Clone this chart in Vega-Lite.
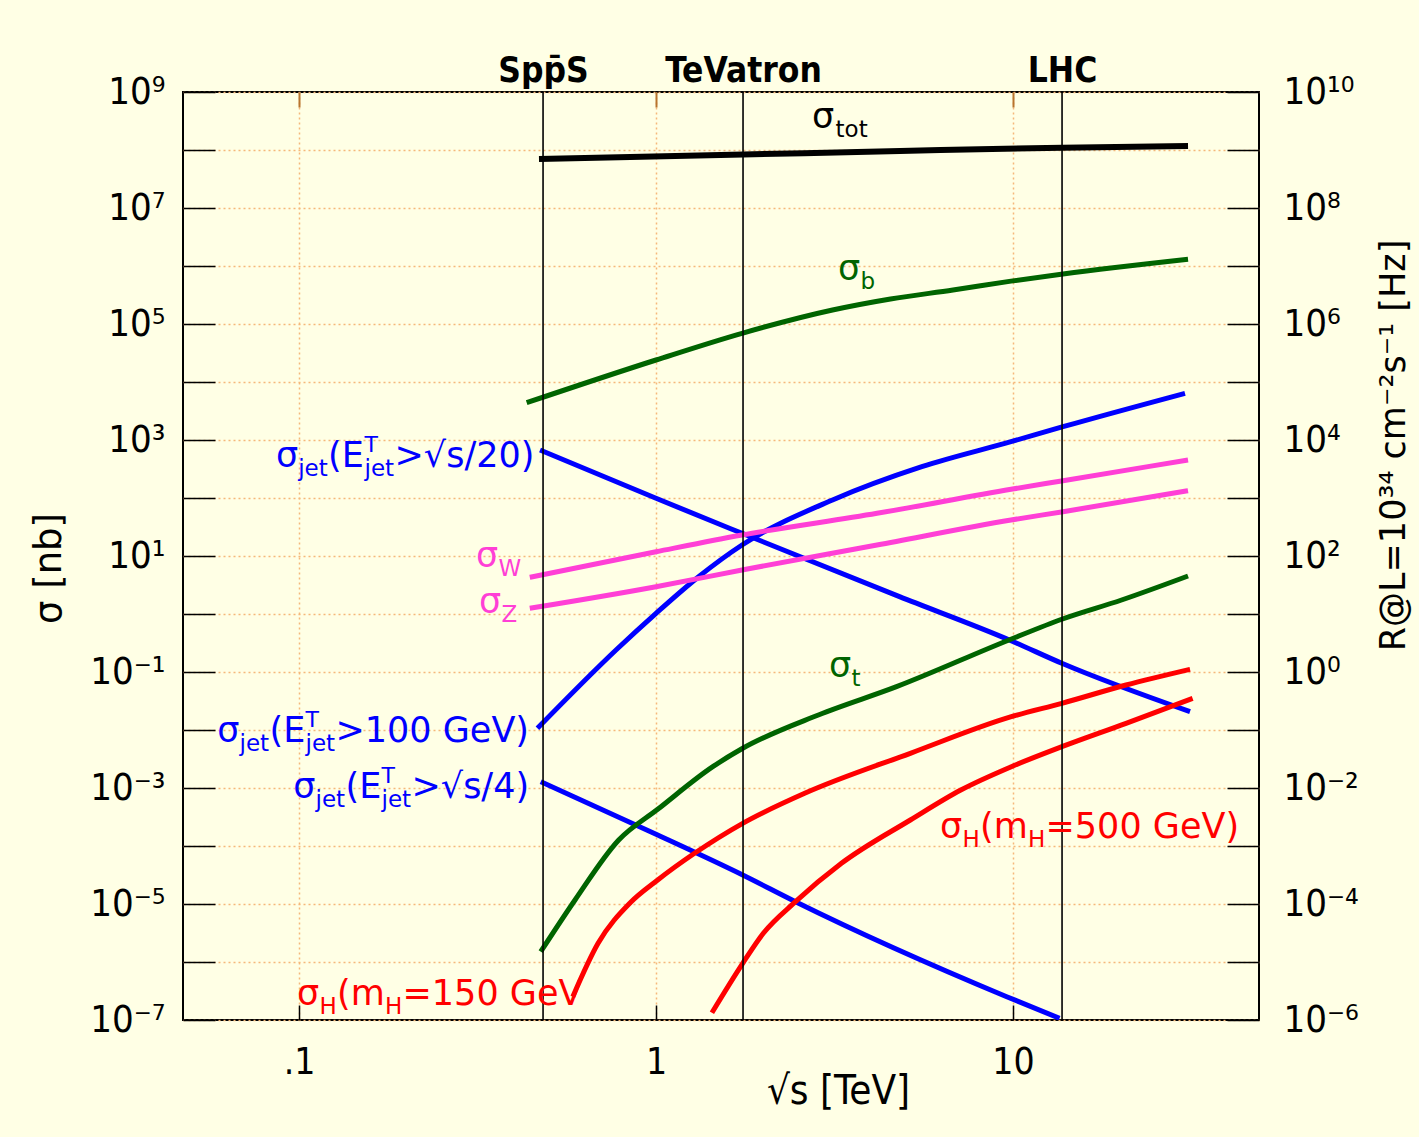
{
  "$schema": "https://vega.github.io/schema/vega-lite/v6.json",
  "width": 1076,
  "height": 928,
  "autosize": {"type": "none"},
  "padding": {"left": 183, "top": 92, "right": 160, "bottom": 117},
  "background": "#FFFFE5",
  "config": {
    "view": {"stroke": "#000000", "strokeWidth": 2},
    "axis": {"labelOverlap": false, "labelFlush": false, "labelBound": false}
  },
  "datasets": {
    "curves": [
      {"series": "tot", "s": 0.4701, "sigma": 70000000},
      {"series": "tot", "s": 1.7529, "sigma": 83600000},
      {"series": "tot", "s": 4.826, "sigma": 96100000},
      {"series": "tot", "s": 13.72, "sigma": 109600000},
      {"series": "tot", "s": 30.92, "sigma": 117200000},
      {"series": "b", "s": 0.4342, "sigma": 4396},
      {"series": "b", "s": 1, "sigma": 23950},
      {"series": "b", "s": 1.7415, "sigma": 69140},
      {"series": "b", "s": 3.1218, "sigma": 174300},
      {"series": "b", "s": 4.5378, "sigma": 270000},
      {"series": "b", "s": 6.7903, "sigma": 385800},
      {"series": "b", "s": 9.872, "sigma": 548000},
      {"series": "b", "s": 13.806, "sigma": 728000},
      {"series": "b", "s": 30.92, "sigma": 1305000},
      {"series": "jet20", "s": 0.4733, "sigma": 672.4},
      {"series": "jet20", "s": 1, "sigma": 98.8},
      {"series": "jet20", "s": 1.7415, "sigma": 24.63},
      {"series": "jet20", "s": 4.809, "sigma": 1.988},
      {"series": "jet20", "s": 9.872, "sigma": 0.3465},
      {"series": "jet20", "s": 13.7, "sigma": 0.1413},
      {"series": "jet20", "s": 31.32, "sigma": 0.02068},
      {"series": "jet100", "s": 0.4654, "sigma": 0.0107},
      {"series": "jet100", "s": 0.7726, "sigma": 0.2395},
      {"series": "jet100", "s": 1, "sigma": 1.028},
      {"series": "jet100", "s": 1.3164, "sigma": 4.396},
      {"series": "jet100", "s": 1.7415, "sigma": 15.47},
      {"series": "jet100", "s": 3.1218, "sigma": 92.4},
      {"series": "jet100", "s": 5.554, "sigma": 346.5},
      {"series": "jet100", "s": 9.872, "sigma": 934.7},
      {"series": "jet100", "s": 13.806, "sigma": 1696},
      {"series": "jet100", "s": 30.32, "sigma": 6387},
      {"series": "jet4", "s": 0.4754, "sigma": 0.0012843},
      {"series": "jet4", "s": 1.011, "sigma": 0.00015476},
      {"series": "jet4", "s": 1.7494, "sigma": 0.00003162},
      {"series": "jet4", "s": 2.459, "sigma": 0.000010956},
      {"series": "jet4", "s": 9.602, "sigma": 0.0000002522},
      {"series": "jet4", "s": 13.5, "sigma": 0.000000107},
      {"series": "W", "s": 0.443, "sigma": 4.293},
      {"series": "W", "s": 1, "sigma": 11.86},
      {"series": "W", "s": 1.7415, "sigma": 23.02},
      {"series": "W", "s": 4.159, "sigma": 54.48},
      {"series": "W", "s": 9.872, "sigma": 141.3},
      {"series": "W", "s": 13.806, "sigma": 198.8},
      {"series": "W", "s": 30.92, "sigma": 452.1},
      {"series": "Z", "s": 0.443, "sigma": 1.254},
      {"series": "Z", "s": 1, "sigma": 2.956},
      {"series": "Z", "s": 1.7415, "sigma": 5.737},
      {"series": "Z", "s": 4.159, "sigma": 15.47},
      {"series": "Z", "s": 9.872, "sigma": 41.75},
      {"series": "Z", "s": 13.806, "sigma": 58.04},
      {"series": "Z", "s": 30.92, "sigma": 133.6},
      {"series": "t", "s": 0.4754, "sigma": 0.000001505},
      {"series": "t", "s": 0.5931, "sigma": 0.00001172},
      {"series": "t", "s": 0.7862, "sigma": 0.00012686},
      {"series": "t", "s": 1.011, "sigma": 0.0004293},
      {"series": "t", "s": 1.4425, "sigma": 0.0023293},
      {"series": "t", "s": 1.7494, "sigma": 0.004836},
      {"series": "t", "s": 2.85, "sigma": 0.01814},
      {"series": "t", "s": 4.7175, "sigma": 0.0558},
      {"series": "t", "s": 9.745, "sigma": 0.3562},
      {"series": "t", "s": 13.762, "sigma": 0.8202},
      {"series": "t", "s": 20.138, "sigma": 1.743},
      {"series": "t", "s": 30.92, "sigma": 4.521},
      {"series": "H150", "s": 0.5847, "sigma": 0.0000002522},
      {"series": "H150", "s": 0.6882, "sigma": 0.000002101},
      {"series": "H150", "s": 0.8468, "sigma": 0.0000105},
      {"series": "H150", "s": 1.011, "sigma": 0.00002593},
      {"series": "H150", "s": 1.2819, "sigma": 0.00007483},
      {"series": "H150", "s": 1.7494, "sigma": 0.0002462},
      {"series": "H150", "s": 2.609, "sigma": 0.0008103},
      {"series": "H150", "s": 5.157, "sigma": 0.003965},
      {"series": "H150", "s": 9.891, "sigma": 0.01696},
      {"series": "H150", "s": 13.7, "sigma": 0.02887},
      {"series": "H150", "s": 20.73, "sigma": 0.05969},
      {"series": "H150", "s": 31.32, "sigma": 0.1113},
      {"series": "H500", "s": 1.4342, "sigma": 0.0000001336},
      {"series": "H500", "s": 1.7494, "sigma": 0.0000009497},
      {"series": "H500", "s": 1.9979, "sigma": 0.000003125},
      {"series": "H500", "s": 2.459, "sigma": 0.000010956},
      {"series": "H500", "s": 3.3071, "sigma": 0.0000503},
      {"series": "H500", "s": 5.157, "sigma": 0.0002808},
      {"series": "H500", "s": 7.1414, "sigma": 0.0009237},
      {"series": "H500", "s": 9.891, "sigma": 0.0023293},
      {"series": "H500", "s": 13.7, "sigma": 0.005153},
      {"series": "H500", "s": 20.73, "sigma": 0.01305},
      {"series": "H500", "s": 31.85, "sigma": 0.03521}
    ],
    "colliders": [
      {"name": "SppS", "s": 0.4826},
      {"name": "TeVatron", "s": 1.7529},
      {"name": "LHC", "s": 13.72}
    ],
    "labels": [
      {"series": "tot", "part": "main", "text": "σ", "s": 2.7353, "sigma": 239500000},
      {"series": "tot", "part": "sub", "text": "tot", "s": 3.1835, "sigma": 239500000},
      {"series": "b", "part": "main", "text": "σ", "s": 3.2353, "sigma": 573700},
      {"series": "b", "part": "sub", "text": "b", "s": 3.7395, "sigma": 573700},
      {"series": "t", "part": "main", "text": "σ", "s": 3.0524, "sigma": 0.08201},
      {"series": "t", "part": "sub", "text": "t", "s": 3.5288, "sigma": 0.08201},
      {"series": "W", "part": "main", "text": "σ", "s": 0.31318, "sigma": 6.462},
      {"series": "W", "part": "sub", "text": "W", "s": 0.36213, "sigma": 6.462},
      {"series": "Z", "part": "main", "text": "σ", "s": 0.31929, "sigma": 1.0404},
      {"series": "Z", "part": "sub", "text": "Z", "s": 0.36922, "sigma": 1.0404},
      {"series": "jet20", "part": "main", "text": "σ", "s": 0.0862, "sigma": 342.3},
      {"series": "jet20", "part": "sub", "text": "jet", "s": 0.09948, "sigma": 342.3},
      {"series": "jet20", "part": "main", "text": "(E", "s": 0.1206, "sigma": 342.3},
      {"series": "jet20", "part": "sup", "text": "T", "s": 0.15256, "sigma": 342.3},
      {"series": "jet20", "part": "sub", "text": "jet", "s": 0.15256, "sigma": 342.3},
      {"series": "jet20", "part": "main", "text": ">√s/20)", "s": 0.18517, "sigma": 342.3},
      {"series": "jet100", "part": "main", "text": "σ", "s": 0.05904, "sigma": 0.00621},
      {"series": "jet100", "part": "sub", "text": "jet", "s": 0.06813, "sigma": 0.00621},
      {"series": "jet100", "part": "main", "text": "(E", "s": 0.08271, "sigma": 0.00621},
      {"series": "jet100", "part": "sup", "text": "T", "s": 0.10428, "sigma": 0.00621},
      {"series": "jet100", "part": "sub", "text": "jet", "s": 0.10428, "sigma": 0.00621},
      {"series": "jet100", "part": "main", "text": ">100 GeV)", "s": 0.12652, "sigma": 0.00621},
      {"series": "jet4", "part": "main", "text": "σ", "s": 0.09639, "sigma": 0.0006724},
      {"series": "jet4", "part": "sub", "text": "jet", "s": 0.11124, "sigma": 0.0006724},
      {"series": "jet4", "part": "main", "text": "(E", "s": 0.13498, "sigma": 0.0006724},
      {"series": "jet4", "part": "sup", "text": "T", "s": 0.17024, "sigma": 0.0006724},
      {"series": "jet4", "part": "sub", "text": "jet", "s": 0.17024, "sigma": 0.0006724},
      {"series": "jet4", "part": "main", "text": ">√s/4)", "s": 0.20659, "sigma": 0.0006724},
      {"series": "H150", "part": "main", "text": "σ", "s": 0.09872, "sigma": 0.0000001814},
      {"series": "H150", "part": "sub", "text": "H", "s": 0.11413, "sigma": 0.0000001814},
      {"series": "H150", "part": "main", "text": "(m", "s": 0.12775, "sigma": 0.0000001814},
      {"series": "H150", "part": "sub", "text": "H", "s": 0.17413, "sigma": 0.0000001814},
      {"series": "H150", "part": "main", "text": "=150 GeV", "s": 0.19497, "sigma": 0.0000001814},
      {"series": "H500", "part": "main", "text": "σ", "s": 6.245, "sigma": 0.00013735},
      {"series": "H500", "part": "sub", "text": "H", "s": 7.22, "sigma": 0.00013735},
      {"series": "H500", "part": "main", "text": "(m", "s": 8.084, "sigma": 0.00013735},
      {"series": "H500", "part": "sub", "text": "H", "s": 11.016, "sigma": 0.00013735},
      {"series": "H500", "part": "main", "text": "=500 GeV)", "s": 12.333, "sigma": 0.00013735}
    ]
  },
  "resolve": {"axis": {"x": "independent", "y": "independent"}},
  "layer": [
    {
      "data": {"name": "curves"},
      "mark": {"type": "line", "interpolate": "monotone", "clip": true},
      "encoding": {
        "x": {
          "field": "s", "type": "quantitative",
          "scale": {"type": "log", "domain": [0.04732, 48.87], "nice": false},
          "axis": {
            "orient": "bottom", "values": [0.1, 1, 10],
            "labelExpr": "datum.value < 0.5 ? '.1' : datum.value < 5 ? '1' : '10'",
            "domain": false, "tickSize": -15, "tickColor": "#000000", "tickWidth": 1.5,
            "labelFont": "DejaVu Sans Condensed", "labelFontSize": 37, "labelColor": "#000000",
            "labelBaseline": "alphabetic", "labelPadding": 68,
            "grid": true, "gridColor": "#F5B87A", "gridDash": [2, 3], "gridWidth": 1.5,
            "title": "√s [TeV]", "titleFont": "DejaVu Sans Condensed", "titleFontSize": 40,
            "titleFontWeight": "normal", "titleColor": "#000000",
            "titleX": 655, "titleY": 83, "titleBaseline": "alphabetic", "titleAlign": "center"
          }
        },
        "y": {
          "field": "sigma", "type": "quantitative",
          "scale": {"type": "log", "domain": [1e-7, 1e9], "nice": false},
          "axis": {
            "orient": "left",
            "values": [1e-7, 1e-6, 1e-5, 1e-4, 1e-3, 1e-2, 1e-1, 1, 10, 100, 1000, 10000, 100000, 1000000, 10000000, 100000000, 1000000000],
            "labelExpr": "['10⁻⁷','','10⁻⁵','','10⁻³','','10⁻¹','','10¹','','10³','','10⁵','','10⁷','','10⁹'][round(log(datum.value)/LN10)+7]",
            "domain": false, "tickSize": -32, "tickWidth": 1.5, "tickColor": "#000000",
            "labelFont": "DejaVu Sans Condensed", "labelFontSize": 38, "labelPadding": 50, "labelColor": "#000000",
            "grid": true, "gridColor": "#F5B87A", "gridDash": [2, 3], "gridWidth": 1.5,
            "title": "σ [nb]", "titleFont": "DejaVu Sans", "titleFontSize": 37, "titleFontWeight": "normal",
            "titleColor": "#000000", "titleAngle": 270, "titleX": -134, "titleY": 476,
            "titleBaseline": "middle", "titleAlign": "center"
          }
        },
        "color": {
          "field": "series", "type": "nominal", "legend": null,
          "scale": {
            "domain": ["tot", "b", "t", "jet20", "jet100", "jet4", "W", "Z", "H150", "H500"],
            "range": ["#000000", "#006400", "#006400", "#0000FF", "#0000FF", "#0000FF", "#FF3FD6", "#FF3FD6", "#FF0000", "#FF0000"]
          }
        },
        "strokeWidth": {"condition": {"test": "datum.series === 'tot'", "value": 6}, "value": 5}
      }
    },
    {
      "data": {"name": "colliders"},
      "mark": {"type": "rule", "color": "#000000", "strokeWidth": 1.6},
      "encoding": {
        "x": {
          "field": "s", "type": "quantitative",
          "scale": {"type": "log", "domain": [0.04732, 48.87], "nice": false},
          "axis": {
            "orient": "top", "values": [0.1, 1, 10, 0.4826, 1.7529, 13.72],
            "labelExpr": "datum.value == 0.4826 ? 'Spp̄S' : datum.value == 1.7529 ? 'TeVatron' : datum.value == 13.72 ? 'LHC' : ''",
            "domain": false, "grid": false, "tickSize": -15, "tickColor": "#B8742E", "tickWidth": 2,
            "tickOpacity": {"condition": {"test": "datum.value == 0.1 || datum.value == 1 || datum.value == 10", "value": 1}, "value": 0},
            "labelFont": "DejaVu Sans Condensed", "labelFontWeight": "bold", "labelFontSize": 35,
            "labelColor": "#000000", "labelBaseline": "alphabetic", "labelPadding": 26,
            "title": null
          }
        }
      }
    },
    {
      "data": {"name": "labels"},
      "transform": [{"filter": "datum.part === 'main'"}],
      "mark": {"type": "text", "align": "left", "baseline": "alphabetic", "font": "DejaVu Sans", "fontSize": 35, "clip": false},
      "encoding": {
        "x": {"field": "s", "type": "quantitative", "scale": {"type": "log", "domain": [0.04732, 48.87], "nice": false}, "axis": null},
        "y": {
          "field": "sigma", "type": "quantitative",
          "scale": {"type": "log", "domain": [1e-7, 1e9], "nice": false},
          "axis": {
            "orient": "right",
            "values": [1e-7, 1e-6, 1e-5, 1e-4, 1e-3, 1e-2, 1e-1, 1, 10, 100, 1000, 10000, 100000, 1000000, 10000000, 100000000, 1000000000],
            "labelExpr": "['10⁻⁶','','10⁻⁴','','10⁻²','','10⁰','','10²','','10⁴','','10⁶','','10⁸','','10¹⁰'][round(log(datum.value)/LN10)+7]",
            "domain": false, "grid": false, "tickSize": -32, "tickWidth": 1.5, "tickColor": "#000000",
            "labelFont": "DejaVu Sans Condensed", "labelFontSize": 38, "labelPadding": 56, "labelColor": "#000000",
            "title": "R@L=10³⁴ cm⁻²s⁻¹ [Hz]", "titleFont": "DejaVu Sans", "titleFontSize": 35,
            "titleFontWeight": "normal", "titleColor": "#000000", "titleAngle": 270,
            "titleX": 134, "titleY": 353, "titleBaseline": "middle", "titleAlign": "center"
          }
        },
        "color": {
          "field": "series", "type": "nominal", "legend": null,
          "scale": {
            "domain": ["tot", "b", "t", "jet20", "jet100", "jet4", "W", "Z", "H150", "H500"],
            "range": ["#000000", "#006400", "#006400", "#0000FF", "#0000FF", "#0000FF", "#FF3FD6", "#FF3FD6", "#FF0000", "#FF0000"]
          }
        },
        "text": {"field": "text"}
      }
    },
    {
      "data": {"name": "labels"},
      "transform": [{"filter": "datum.part === 'sub'"}],
      "mark": {"type": "text", "align": "left", "baseline": "alphabetic", "font": "DejaVu Sans", "fontSize": 23, "dy": 9, "clip": false},
      "encoding": {
        "x": {"field": "s", "type": "quantitative", "scale": {"type": "log", "domain": [0.04732, 48.87], "nice": false}, "axis": null},
        "y": {"field": "sigma", "type": "quantitative", "scale": {"type": "log", "domain": [1e-7, 1e9], "nice": false}, "axis": null},
        "color": {
          "field": "series", "type": "nominal", "legend": null,
          "scale": {
            "domain": ["tot", "b", "t", "jet20", "jet100", "jet4", "W", "Z", "H150", "H500"],
            "range": ["#000000", "#006400", "#006400", "#0000FF", "#0000FF", "#0000FF", "#FF3FD6", "#FF3FD6", "#FF0000", "#FF0000"]
          }
        },
        "text": {"field": "text"}
      }
    },
    {
      "data": {"name": "labels"},
      "transform": [{"filter": "datum.part === 'sup'"}],
      "mark": {"type": "text", "align": "left", "baseline": "alphabetic", "font": "DejaVu Sans", "fontSize": 22, "dy": -15, "clip": false},
      "encoding": {
        "x": {"field": "s", "type": "quantitative", "scale": {"type": "log", "domain": [0.04732, 48.87], "nice": false}, "axis": null},
        "y": {"field": "sigma", "type": "quantitative", "scale": {"type": "log", "domain": [1e-7, 1e9], "nice": false}, "axis": null},
        "color": {
          "field": "series", "type": "nominal", "legend": null,
          "scale": {
            "domain": ["tot", "b", "t", "jet20", "jet100", "jet4", "W", "Z", "H150", "H500"],
            "range": ["#000000", "#006400", "#006400", "#0000FF", "#0000FF", "#0000FF", "#FF3FD6", "#FF3FD6", "#FF0000", "#FF0000"]
          }
        },
        "text": {"field": "text"}
      }
    }
  ]
}
